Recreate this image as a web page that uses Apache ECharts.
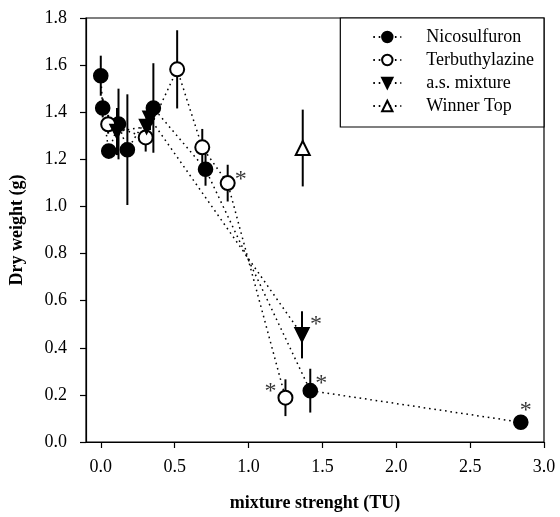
<!DOCTYPE html>
<html><head><meta charset="utf-8">
<script src="https://cdn.jsdelivr.net/npm/echarts@6/dist/echarts.min.js"></script>
<style>html,body{margin:0;padding:0;background:#fff}#c{width:560px;height:517px}</style>
</head><body><div id="c"></div>
<script>
// ---- data ----
const xTicks = [0, 0.5, 1.0, 1.5, 2.0, 2.5, 3.0];
const yTicks = [0, 0.2, 0.4, 0.6, 0.8, 1.0, 1.2, 1.4, 1.6, 1.8];

const nicoX   = [0.0, 0.013, 0.054, 0.12, 0.18, 0.356, 0.709, 1.418, 2.843];
const nicoY   = [1.555, 1.418, 1.235, 1.35, 1.241, 1.418, 1.158, 0.218, 0.084];
const nicoErr = [0.085, 0.04, 0.03, 0.15, 0.235, 0.19, 0.07, 0.093, 0.01];

const terbX   = [0.05, 0.304, 0.517, 0.687, 0.859, 1.25];
const terbY   = [1.349, 1.293, 1.582, 1.251, 1.099, 0.188];
const terbErr = [0.04, 0.06, 0.166, 0.078, 0.078, 0.078];

const mixX   = [0.11, 0.31, 0.333, 1.362];
const mixY   = [1.318, 1.339, 1.374, 0.455];
const mixErr = [0.1, 0.05, 0.05, 0.1];

const winX   = [1.367];
const winY   = [1.248];
const winErr = [0.163];

// significance asterisks: [x, y, dx, dy]
const starX = [0.859, 1.362, 1.25, 1.418, 2.843];
const starY = [1.099, 0.455, 0.188, 0.218, 0.084];
const starDX = [13, 14, -15, 11, 5];
const starDY = [-3, -10, -6, -7, -12];

const FONT = 'Liberation Serif';
const zip = (xs, ys) => xs.map((x, i) => [x, ys[i]]);
const errData = [].concat(
  nicoX.map((x, i) => [x, nicoY[i], nicoErr[i]]),
  terbX.map((x, i) => [x, terbY[i], terbErr[i]]),
  mixX.map((x, i) => [x, mixY[i], mixErr[i]]),
  winX.map((x, i) => [x, winY[i], winErr[i]])
);

const dotted = {type: [1.6, 3.8], width: 1.5, color: '#000', cap: 'butt'};

function lineSeries(name, data, symbol, rotate) {
  return {
    name, type: 'line', data, symbol, symbolSize: 14, symbolRotate: rotate || 0,
    showSymbol: true, z: 3,
    lineStyle: dotted,
    itemStyle: {color: '#000', borderColor: '#000', borderWidth: 1.6},
    emphasis: {disabled: true}, animation: false
  };
}

const chart = echarts.init(document.getElementById('c'), null, {renderer: 'canvas'});
chart.setOption({
  animation: false,
  backgroundColor: '#fff',
  grid: {left: 81, right: 16, top: 18, bottom: 68, show: true, borderColor: '#000', borderWidth: 1.2, backgroundColor: 'transparent'},
  xAxis: {
    type: 'value', min: -0.1, max: 3.0,
    name: 'mixture strenght (TU)', nameLocation: 'middle', nameGap: 52,
    nameTextStyle: {fontFamily: FONT, fontSize: 18, fontWeight: 'bold', color: '#000'},
    axisLine: {show: true, onZero: false, lineStyle: {color: '#000', width: 1.2}},
    axisTick: {show: true, inside: false, length: 6, customValues: xTicks, lineStyle: {color: '#000', width: 1.2}},
    axisLabel: {customValues: xTicks, formatter: v => v.toFixed(1), fontFamily: FONT, fontSize: 18, color: '#000', margin: 16},
    splitLine: {show: false}
  },
  yAxis: {
    type: 'value', min: 0, max: 1.8, interval: 0.2,
    name: 'Dry weight (g)', nameLocation: 'middle', nameGap: 60,
    nameTextStyle: {fontFamily: FONT, fontSize: 18, fontWeight: 'bold', color: '#000'},
    axisLine: {show: true, onZero: false, lineStyle: {color: '#000', width: 1.2}},
    axisTick: {show: true, inside: false, length: 6, lineStyle: {color: '#000', width: 1.2}},
    axisLabel: {formatter: v => v.toFixed(1), fontFamily: FONT, fontSize: 18, color: '#000', margin: 19},
    splitLine: {show: false}
  },
  legend: {
    orient: 'vertical', right: 16, top: 18,
    data: ['Nicosulfuron', 'Terbuthylazine', 'a.s. mixture', 'Winner Top'],
    itemWidth: 28, itemHeight: 13, itemGap: 5,
    padding: [10, 10, 12, 32],
    borderColor: '#000', borderWidth: 1.2, backgroundColor: '#fff',
    textStyle: {fontFamily: FONT, fontSize: 18, color: '#000', lineHeight: 18, padding: [0, 0, 0, 20]},
    selectedMode: false
  },
  series: [
    {
      type: 'custom', name: 'err', z: 1, silent: true,
      data: errData,
      renderItem: (params, api) => {
        const x = api.value(0), y = api.value(1), e = api.value(2);
        const p1 = api.coord([x, y - e]), p2 = api.coord([x, y + e]);
        return {type: 'line', shape: {x1: p1[0], y1: p1[1], x2: p2[0], y2: p2[1]},
                style: {stroke: '#000', lineWidth: 2}};
      }
    },
    lineSeries('Nicosulfuron', zip(nicoX, nicoY), 'circle'),
    lineSeries('Terbuthylazine', zip(terbX, terbY), 'emptyCircle'),
    lineSeries('a.s. mixture', zip(mixX, mixY), 'triangle', 180),
    lineSeries('Winner Top', zip(winX, winY), 'emptyTriangle'),
    {
      type: 'scatter', name: 'stars', z: 4, silent: true,
      symbolSize: 1, itemStyle: {color: 'rgba(0,0,0,0)'},
      data: starX.map((x, i) => ({value: [x, starY[i]],
        label: {show: true, formatter: '*', position: 'inside', offset: [starDX[i], starDY[i]],
                fontFamily: FONT, fontSize: 24, color: '#000'}}))
    }
  ]
});
</script></body></html>
